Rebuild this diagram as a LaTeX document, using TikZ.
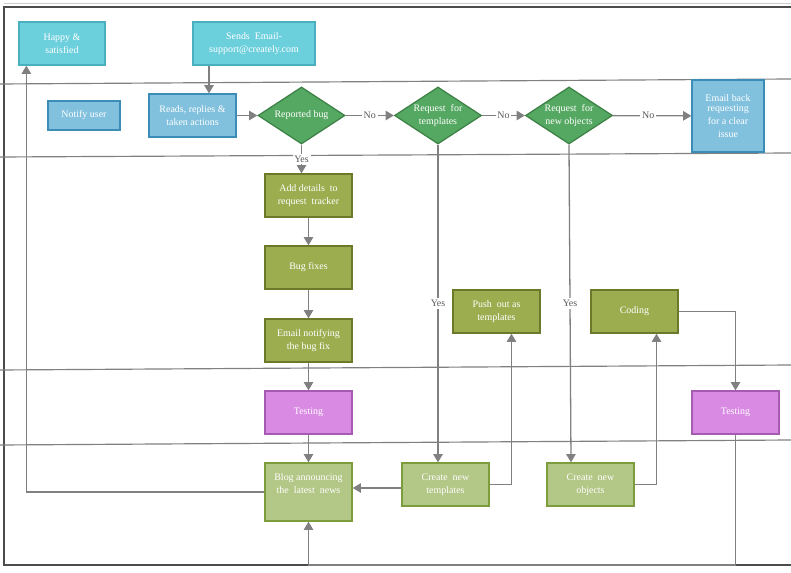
\documentclass[tikz,border=0pt]{standalone}
\usepackage{fontspec}
\setmainfont{Liberation Serif}
\usepackage{tikz}
\usetikzlibrary{arrows.meta}
\usetikzlibrary{shapes.geometric}
\usetikzlibrary{calc}
\definecolor{lcyan}{HTML}{6CCFDC}
\definecolor{dcyan}{HTML}{4AAFBF}
\definecolor{lblue}{HTML}{81C1DE}
\definecolor{dblue}{HTML}{3B8DB8}
\definecolor{lgreen}{HTML}{55A862}
\definecolor{dgreen}{HTML}{3E8248}
\definecolor{lolive}{HTML}{9BAD4F}
\definecolor{dolive}{HTML}{6A7A2A}
\definecolor{lpurple}{HTML}{D98AE3}
\definecolor{dpurple}{HTML}{A55CB0}
\definecolor{pale}{HTML}{B3C786}
\definecolor{dpale}{HTML}{7D9C3C}
\definecolor{wire}{HTML}{808080}
\tikzset{box/.style = {draw, line width = 1.1pt, text = white, align = center,
                       inner sep = 1pt, font = \fontsize{8.5}{11}\selectfont,
                       minimum width = 2.61cm, minimum height = 1.29cm}}
\tikzset{teal/.style = {box, fill = lcyan, draw = dcyan}}
\tikzset{bluebox/.style = {box, fill = lblue, draw = dblue}}
\tikzset{decide/.style = {box, diamond, aspect = 1.53, inner sep = 0,
                          fill = lgreen, draw = dgreen, minimum height = 1.71cm}}
\tikzset{work/.style = {box, fill = lolive, draw = dolive}}
\tikzset{check/.style = {box, fill = lpurple, draw = dpurple}}
\tikzset{done/.style = {box, fill = pale, draw = dpale}}
\tikzset{flow/.style = {draw = wire, line width = 1.1pt,
                        -{Triangle[width = 8pt, length = 7pt]}}}
\tikzset{lbl/.style = {fill = white, text = black!65, inner sep = 1.5pt,
                       font = \fontsize{8.5}{10}\selectfont}}
\tikzset{lane/.style = {draw = wire, line width = 1pt}}

\begin{document}
\begin{tikzpicture}[x = 0.03cm, y = -0.03cm]
          \useasboundingbox (0, 0) rectangle (791, 573);
          % frame and lanes
          \draw [black!20, line width = 0.8pt] (4, 3.5) -- (791, 3.5);
          \draw [black!70, line width = 1pt] (791, 7) -- (4, 7) -- (4, 565) -- (791, 565);
          \draw [lane] (0, 84) -- (791, 79);
          \draw [lane] (0, 157) -- (791, 153);
          \draw [lane] (0, 370) -- (791, 365);
          \draw [lane] (0, 445) -- (791, 440);
          \coordinate (base) at (0, 565);
          % customer
          \node [teal, minimum width = 2.58cm] (happy) at (62, 43.5) {Happy \&\\satisfied};
          \node [teal, minimum width = 3.66cm] (sends) at (254, 43.5) {Sends\ \ Email-\\support@creately.com};
          % support
          \node [bluebox, minimum width = 2.16cm, minimum height = 0.87cm] (notify) at (84, 115.5) {Notify user};
          \node [bluebox] (reads) at (192.5, 115.5) {Reads,\ replies\ \&\\taken\ actions};
          \node [decide] (bug) at (301.5, 115.5) {Reported\ bug};
          \node [decide] (tmpl) at (438, 115.5) {Request\ \ for\\templates};
          \node [decide] (obj) at (569, 115.5) {Request\ \ for\\new objects};
          \node [bluebox, minimum width = 2.16cm, minimum height = 2.16cm] (back) at (728, 116) {Email back\\[-2pt]requesting\\for a clear\\issue};
          % developers
          \node [work] (details) at (308.5, 195.5) {Add details\ \ to\\request\ \ tracker};
          \node [work] (fixes) at (308.5, 267.5) {Bug fixes};
          \node [work] (notifying) at (308.5, 340.5) {Email notifying\\the\ bug\ fix};
          \node [work] (push) at (496.5, 311.5) {Push\ \ out as\\templates};
          \node [work] (coding) at (634.5, 311.5) {Coding};
          % testers
          \node [check] (test) at (308.5, 412.5) {Testing};
          \node [check] (retest) at (735.5, 412.5) {Testing};
          % marketing
          \node [done, minimum height = 1.74cm] (blog) at (308.5, 492) {Blog announcing\\the\ \ latest\ \ news\\[3pt]};
          \node [done] (newtmpl) at (445.5, 484.5) {Create\ \ new\\templates};
          \node [done] (newobj) at (590.5, 484.5) {Create\ \ new\\objects};
          % connectors
          \draw [flow] ($(sends.south)+(-45, 0)$) -- ($(reads.north)+(16.5, 0)$);
          \draw [flow] (reads) -- (bug);
          \draw [flow] (bug) -- node [lbl] {No} (tmpl);
          \draw [flow] (tmpl) -- node [lbl] {No} (obj);
          \draw [flow] (obj) -- node [lbl, pos = 0.45] {No} (back);
          \draw [flow] (bug.south) -- node [lbl, pos = 0.5] {Yes} (bug.south |- details.north);
          \draw [flow] (details) -- (fixes);
          \draw [flow] (fixes) -- (notifying);
          \draw [flow] (notifying) -- (test);
          \draw [flow] (test) -- (blog);
          \draw [flow] (tmpl.south) -- node [lbl, pos = 0.5] {Yes} (newtmpl.north -| tmpl.south);
          \draw [flow] (obj.south) -- node [lbl, pos = 0.5] {Yes} ($(newobj.north)+(-19.5, 0)$);
          \draw [flow] (newtmpl.east) -| ($(push.south)+(15, 0)$);
          \draw [flow] (newobj.east) -| ($(coding.south)+(22, 0)$);
          \draw [flow] (coding.east) -| (retest.north);
          \draw [flow] ($(newtmpl.west)+(0, 3.5)$) -- ($(blog.east)+(0, -4)$);
          \draw [flow] (retest.south) -- (retest.south |- base) -| (blog.south);
          \draw [flow] (blog.west) -| ($(happy.south west)+(8, 0)$);
        \end{tikzpicture}
\end{document}
